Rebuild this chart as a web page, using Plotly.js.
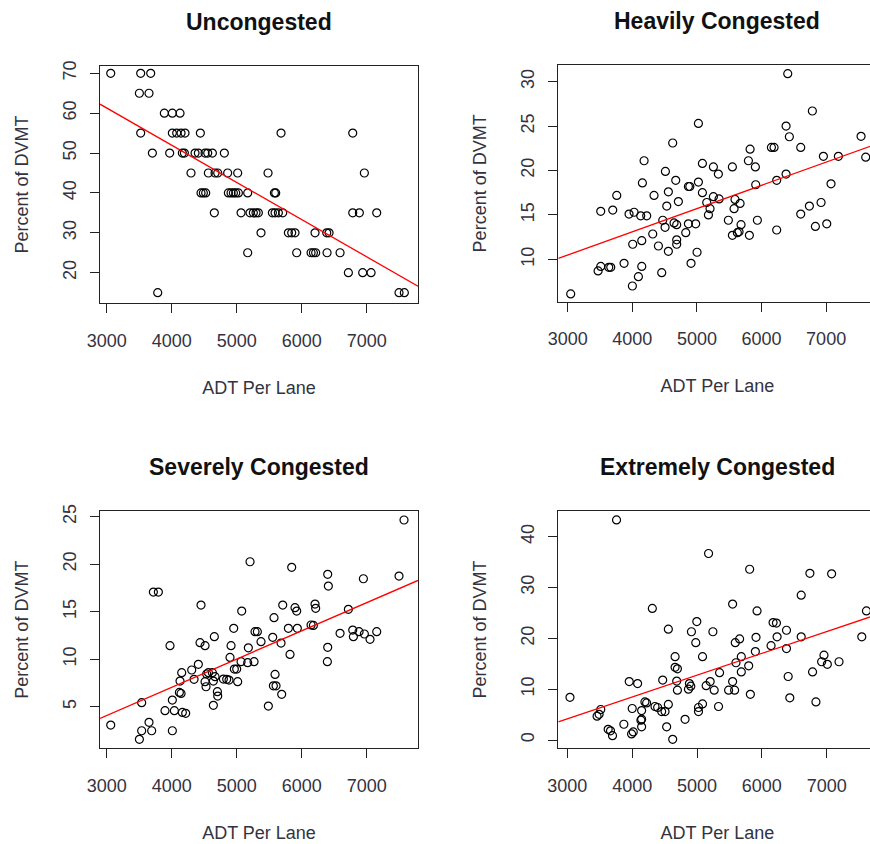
<!DOCTYPE html>
<html>
<head>
<meta charset="utf-8">
<script src="https://cdn.plot.ly/plotly-3.0.1.min.js"></script>
<style>
html, body { margin: 0; padding: 0; background: #ffffff; overflow: hidden; }
#chart { width: 880px; height: 844px; }
</style>
</head>
<body>
<div id="chart"></div>
<script>
// ---------- data ----------
const panelTitles = ["Uncongested", "Heavily Congested", "Severely Congested", "Extremely Congested"];
const xTickVals = [3000, 4000, 5000, 6000, 7000];

// Uncongested
const adtUncongested = [
  3062, 3523, 3677,
  3503, 3651,
  3887, 4010, 4128,
  3523, 4010, 4077, 4144, 4205, 4441, 5682, 6785,
  3703, 3969, 4164, 4195, 4359, 4410, 4513, 4554, 4626, 4810,
  4297, 4564, 4667, 4708, 4861, 5015, 5482, 6964,
  4451, 4487, 4523, 4872, 4913, 4949, 4985, 5026, 5169, 5580, 5600,
  4656, 5067, 5205, 5256, 5297, 5333, 5549, 5590, 5641, 5708, 6785, 6887, 7154,
  5374, 5795, 5846, 5897, 6205, 6385, 6421,
  5169, 5923, 6144, 6180, 6215, 6390, 6590,
  6718, 6938, 7067,
  3785, 7497, 7579
];
const pctUncongested = [
  70, 70, 70,
  65, 65,
  60, 60, 60,
  55, 55, 55, 55, 55, 55, 55, 55,
  50, 50, 50, 50, 50, 50, 50, 50, 50, 50,
  45, 45, 45, 45, 45, 45, 45, 45,
  40, 40, 40, 40, 40, 40, 40, 40, 40, 40, 40,
  35, 35, 35, 35, 35, 35, 35, 35, 35, 35, 35, 35, 35,
  30, 30, 30, 30, 30, 30, 30,
  25, 25, 25, 25, 25, 25, 25,
  20, 20, 20,
  15, 15, 15
];

// Heavily Congested
const adtHeavily = [
  3046, 6406, 6787, 5023, 4625, 6380, 6431, 7541, 5823, 6153, 6194, 6607, 4182, 5085, 5255,
  5549, 5797, 5905, 5332, 4512, 6958, 7190, 7613, 6380, 6235, 4156, 4672, 4868, 4890, 5023,
  5910, 7076, 4558, 5085, 3759, 4336, 5255, 5343, 4713, 4533, 5152, 5590, 5668, 5203, 5575,
  3697, 3511, 3949, 4027, 4130, 4223, 5178, 6607, 6741, 6922, 4471, 4646, 4687, 4981, 4868,
  5487, 5936, 4507, 4827, 5683, 5652, 5626, 5549, 5812, 6235, 6834, 7010, 4316, 4687, 4006,
  4146, 4687, 4404, 4558, 5002, 3872, 3511, 3470, 3635, 3666, 4146, 4909, 4455, 4094, 4001
];
const pctHeavily = [
  6.1, 30.9, 26.7, 25.3, 23.1, 25.0, 23.8, 23.85, 22.4, 22.6, 22.6, 22.6, 21.1, 20.8, 20.4,
  20.4, 21.1, 20.4, 19.6, 19.9, 21.6, 21.6, 21.5, 19.6, 18.9, 18.6, 18.9, 18.2, 18.2, 18.7,
  18.4, 18.5, 17.6, 17.5, 17.2, 17.2, 17.05, 16.8, 16.5, 16.0, 16.4, 16.75, 16.3, 15.7, 15.7,
  15.55, 15.4, 15.1, 15.3, 14.9, 14.9, 15.0, 15.1, 16.0, 16.4, 14.4, 14.1, 13.9, 14.0, 14.0,
  14.4, 14.4, 13.6, 13.0, 13.9, 13.1, 13.0, 12.7, 12.7, 13.3, 13.7, 14.0, 12.85, 12.2, 11.7,
  12.1, 11.7, 11.5, 10.9, 10.8, 9.55, 9.2, 8.7, 9.1, 9.1, 9.2, 9.55, 8.5, 8.05, 7.0
];

// Severely Congested
const adtSeverely = [
  3062, 7574, 5205, 5846, 6400, 6949, 7497, 6410, 3718, 3795, 4451, 5077, 5708, 5897, 5923,
  6205, 6215, 6718, 5574, 4954, 5795, 5933, 6144, 6180, 5282, 5318, 6590, 6785, 6795, 6882,
  6964, 7051, 7154, 3974, 4436, 4513, 4656, 4913, 5179, 5374, 5554, 5682, 5820, 6400, 6395,
  4897, 5067, 5169, 5267, 5000, 4964, 4410, 4308, 4154, 4344, 4538, 4564, 4626, 4667, 4513,
  4528, 4641, 4703, 4708, 4795, 4846, 4882, 5015, 5590, 5564, 5605, 5692, 4128, 4118, 4144,
  4010, 3538, 3897, 4041, 4164, 4215, 4641, 5487, 3651, 3538, 3692, 4010, 3503
];
const pctSeverely = [
  3.07, 24.65, 20.26, 19.67, 18.93, 18.47, 18.75, 17.7, 17.07, 17.07, 15.7, 15.07, 15.7, 15.42, 15.07,
  15.8, 15.35, 15.25, 14.37, 13.25, 13.25, 13.25, 13.6, 13.55, 12.9, 12.9, 12.72, 13.07, 12.37, 12.9,
  12.65, 12.09, 12.9, 11.42, 11.74, 11.42, 12.37, 11.42, 11.2, 11.84, 12.3, 11.7, 10.5, 11.25, 9.74,
  10.19, 9.74, 9.63, 9.74, 8.96, 8.96, 9.46, 8.86, 8.58, 7.88, 8.44, 8.58, 8.58, 8.16, 7.63,
  7.1, 7.7, 6.58, 6.12, 7.91, 7.88, 7.8, 7.63, 8.4, 7.2, 7.2, 6.3, 7.7, 6.5, 6.4,
  5.7, 5.42, 4.58, 4.58, 4.4, 4.3, 5.14, 5.07, 3.35, 2.47, 2.47, 2.47, 1.56
];

// Extremely Congested
const adtExtremely = [
  3759, 5178, 5812, 6741, 7076, 6607, 4311, 5549, 5926, 7613, 4997, 4558, 4914, 5245, 6173,
  6225, 6380, 4981, 5590, 5657, 5910, 6235, 6607, 7541, 6142, 6380, 5900, 4662, 5085, 5683,
  4662, 4698, 5348, 5601, 5683, 5797, 6958, 6922, 7010, 7190, 6782, 3955, 4084, 4471, 4687,
  4698, 4883, 4904, 4868, 5203, 5141, 5265, 5487, 5549, 5580, 5823, 6406, 6431, 6834, 3516,
  3490, 3459, 3041, 4001, 4146, 4197, 4223, 4352, 4393, 4455, 4507, 4558, 4146, 4135, 4017,
  3991, 4146, 3872, 3630, 3666, 3697, 4532, 4625, 4816, 5023, 5085, 5332, 5023
];
const pctExtremely = [
  43.3, 36.7, 33.6, 32.8, 32.7, 28.5, 25.9, 26.75, 25.4, 25.4, 23.3, 21.8, 21.3, 21.3, 23.1,
  23.0, 21.6, 19.15, 19.15, 19.9, 20.2, 20.3, 20.3, 20.3, 18.56, 18.0, 17.4, 16.4, 16.4, 16.4,
  14.3, 14.0, 13.25, 15.2, 13.4, 14.6, 16.7, 15.4, 14.9, 15.4, 13.4, 11.5, 11.1, 11.8, 11.6,
  9.8, 11.1, 10.6, 10.0, 11.5, 10.7, 9.8, 9.8, 11.5, 9.8, 9.0, 12.5, 8.3, 7.5, 6.0,
  5.05, 4.7, 8.4, 6.2, 5.8, 7.5, 7.3, 6.6, 6.4, 5.6, 5.6, 7.0, 4.1, 3.9, 1.6,
  1.2, 2.6, 3.1, 2.1, 1.8, 0.85, 2.6, 0.13, 4.07, 5.6, 7.1, 6.6, 6.4
];

const xData = [adtUncongested, adtHeavily, adtSeverely, adtExtremely];
const yData = [pctUncongested, pctHeavily, pctSeverely, pctExtremely];

// ---------- layout geometry ----------
const W = 880, H = 844;
const xRanges = [[2897, 7789], [2854, 7780], [2897, 7789], [2861, 7768]];
const yRanges = [[12.40, 71.83], [5.23, 31.88], [0.62, 25.6], [-1.57, 45.06]];
const yDticks = [10, 5, 5, 10];
const xDomains = [[100 / W, 418 / W], [558.3 / W, 876.5 / W], [100 / W, 418 / W], [558.3 / W, 876.5 / W]];
const yDomains = [[(H - 303) / H, (H - 66) / H], [(H - 301.7) / H, (H - 65) / H],
                  [(H - 748.3) / H, (H - 511) / H], [(H - 748) / H, (H - 511) / H]];

function fit(xs, ys) {
  const n = xs.length;
  let sx = 0, sy = 0;
  for (let i = 0; i < n; i++) { sx += xs[i]; sy += ys[i]; }
  const mx = sx / n, my = sy / n;
  let sxy = 0, sxx = 0;
  for (let i = 0; i < n; i++) { sxy += (xs[i] - mx) * (ys[i] - my); sxx += (xs[i] - mx) * (xs[i] - mx); }
  const b = sxy / sxx;
  return { a: my - b * mx, b: b };
}

const tickFont = { family: "Liberation Sans, Arial, sans-serif", size: 18, color: "#333340" };
const traces = [];
const layout = {
  width: W, height: H,
  margin: { l: 0, r: 0, t: 0, b: 0 },
  paper_bgcolor: "#ffffff", plot_bgcolor: "#ffffff",
  showlegend: false,
  annotations: []
};

for (let k = 0; k < 4; k++) {
  const sfx = k === 0 ? "" : String(k + 1);
  const xa = "x" + sfx, ya = "y" + sfx;
  traces.push({
    type: "scatter", mode: "markers", x: xData[k], y: yData[k],
    xaxis: xa, yaxis: ya, cliponaxis: true,
    marker: { symbol: "circle-open", size: 8, color: "#000000", line: { width: 1.2, color: "#000000" } },
    hoverinfo: "x+y"
  });
  const f = fit(xData[k], yData[k]);
  const lx = [xRanges[k][0], xRanges[k][1]];
  traces.push({
    type: "scatter", mode: "lines", x: lx, y: lx.map(v => f.a + f.b * v),
    xaxis: xa, yaxis: ya,
    line: { color: "#ff0000", width: 1.3 },
    hoverinfo: "skip"
  });
  layout["xaxis" + sfx] = {
    domain: xDomains[k], range: xRanges[k], anchor: ya,
    showgrid: false, zeroline: false,
    showline: true, mirror: true, linecolor: "#222222", linewidth: 1,
    ticks: "outside", ticklen: 9, tickwidth: 1, tickcolor: "#222222",
    tickmode: "array", tickvals: xTickVals, ticktext: xTickVals.map(String),
    tickfont: tickFont, ticklabelstandoff: 12,
    title: { text: "ADT Per Lane", font: tickFont, standoff: 31 }
  };
  layout["yaxis" + sfx] = {
    domain: yDomains[k], range: yRanges[k], anchor: xa,
    showgrid: false, zeroline: false,
    showline: true, mirror: true, linecolor: "#222222", linewidth: 1,
    ticks: "outside", ticklen: 9, tickwidth: 1, tickcolor: "#222222",
    tickmode: "linear", dtick: yDticks[k], tick0: 0,
    tickangle: -90, tickfont: tickFont, ticklabelstandoff: 7,
    title: { text: "Percent of DVMT", font: tickFont, standoff: 26 }
  };
  const cx = (xDomains[k][0] + xDomains[k][1]) / 2;
  const topPx = H * (1 - yDomains[k][1]);
  layout.annotations.push({
    text: "<b>" + panelTitles[k] + "</b>",
    xref: "paper", yref: "paper", x: cx, y: 1 - (topPx - 44) / H,
    xanchor: "center", yanchor: "middle", showarrow: false,
    font: { family: "Liberation Sans, Arial, sans-serif", size: 23, color: "#111111" }
  });
}

Plotly.newPlot("chart", traces, layout, { displayModeBar: false, staticPlot: true });
</script>
</body>
</html>
